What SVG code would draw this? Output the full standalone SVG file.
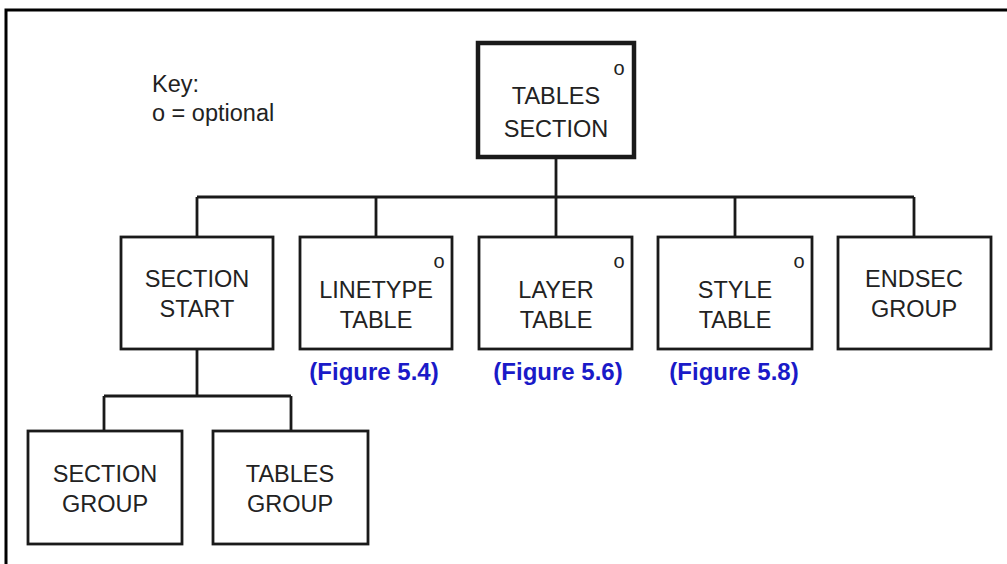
<svg xmlns="http://www.w3.org/2000/svg" width="1007" height="564" viewBox="0 0 1007 564">
<style>
.box{fill:#fff;stroke:#1a1a1a;stroke-width:2.8}
.top{fill:#fff;stroke:#1a1a1a;stroke-width:4.5}
.lbl{font-family:"Liberation Sans",Arial,sans-serif;font-size:23.5px;fill:#222;text-anchor:middle}
.opt{font-family:"Liberation Sans",Arial,sans-serif;font-size:20px;fill:#222;text-anchor:middle}
.key{font-family:"Liberation Sans",Arial,sans-serif;font-size:23.5px;fill:#222}
.fig{font-family:"Liberation Sans",Arial,sans-serif;font-size:24px;font-weight:bold;fill:#1a1ac8;text-anchor:middle}
.con{fill:none;stroke:#1a1a1a;stroke-width:2.8}
</style>
<rect width="1007" height="564" fill="#fff"/>
<path d="M6,566 V10 H1009" fill="none" stroke="#000" stroke-width="3"/>
<g id="key">
<text class="key" x="152" y="92">Key:</text>
<text class="key" x="152" y="121">o = optional</text>
</g>
<g id="connectors">
<path class="con" d="M556,157 V197 M197,197 H914 M197,197 V237 M376,197 V237 M556,197 V237 M735,197 V237 M914,197 V237"/>
<path class="con" d="M197,349 V396 M104,396 H291 M104,396 V431 M291,396 V431"/>
</g>
<g id="tables-section">
<rect class="top" x="478" y="43" width="156" height="114"/>
<text class="opt" x="619" y="75">o</text>
<text class="lbl" x="556" y="104">TABLES</text>
<text class="lbl" x="556" y="137">SECTION</text>
</g>
<g id="section-start">
<rect class="box" x="121" y="237" width="152" height="112"/>
<text class="lbl" x="197" y="287">SECTION</text>
<text class="lbl" x="197" y="317">START</text>
</g>
<g id="linetype-table">
<rect class="box" x="300" y="237" width="152" height="112"/>
<text class="opt" x="439" y="268">o</text>
<text class="lbl" x="376" y="298">LINETYPE</text>
<text class="lbl" x="376" y="328">TABLE</text>
<text class="fig" x="374" y="380">(Figure 5.4)</text>
</g>
<g id="layer-table">
<rect class="box" x="479" y="237" width="153" height="112"/>
<text class="opt" x="619" y="268">o</text>
<text class="lbl" x="556" y="298">LAYER</text>
<text class="lbl" x="556" y="328">TABLE</text>
<text class="fig" x="558" y="380">(Figure 5.6)</text>
</g>
<g id="style-table">
<rect class="box" x="658" y="237" width="154" height="112"/>
<text class="opt" x="799" y="268">o</text>
<text class="lbl" x="735" y="298">STYLE</text>
<text class="lbl" x="735" y="328">TABLE</text>
<text class="fig" x="734" y="380">(Figure 5.8)</text>
</g>
<g id="endsec-group">
<rect class="box" x="838" y="237" width="153" height="112"/>
<text class="lbl" x="914" y="287">ENDSEC</text>
<text class="lbl" x="914" y="317">GROUP</text>
</g>
<g id="section-group">
<rect class="box" x="28" y="431" width="154" height="113"/>
<text class="lbl" x="105" y="482">SECTION</text>
<text class="lbl" x="105" y="512">GROUP</text>
</g>
<g id="tables-group">
<rect class="box" x="213" y="431" width="155" height="113"/>
<text class="lbl" x="290" y="482">TABLES</text>
<text class="lbl" x="290" y="512">GROUP</text>
</g>
</svg>
